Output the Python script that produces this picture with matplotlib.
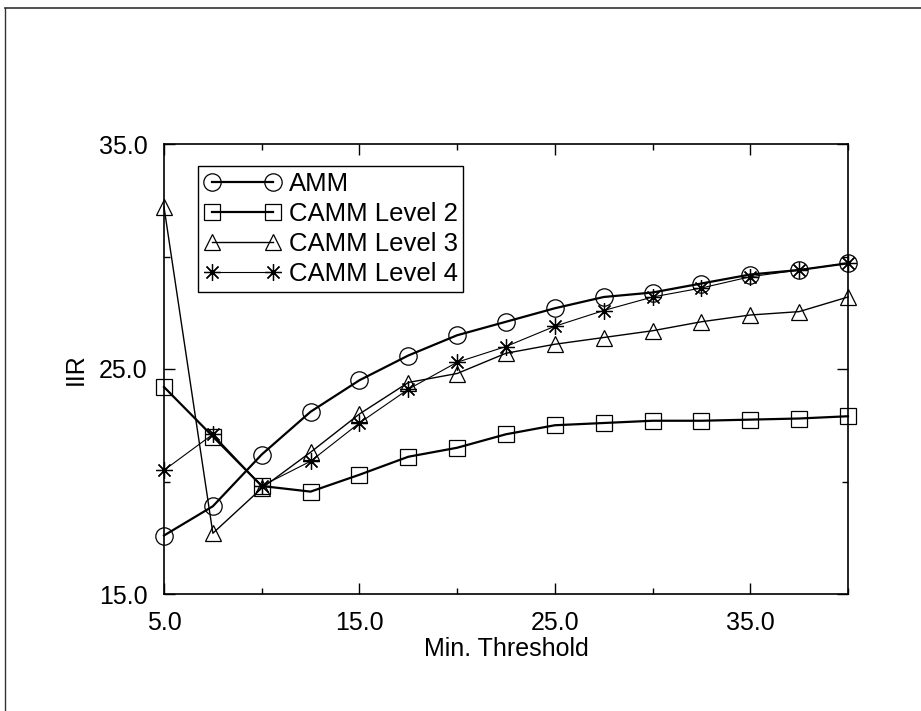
import matplotlib
matplotlib.use("Agg")
import matplotlib.pyplot as plt
from matplotlib.lines import Line2D
from matplotlib.ticker import MultipleLocator, FormatStrFormatter

plt.rcParams['font.family'] = ['Liberation Sans', 'DejaVu Sans']

thresholds = [5.0, 7.5, 10.0, 12.5, 15.0, 17.5, 20.0, 22.5, 25.0, 27.5, 30.0, 32.5, 35.0, 37.5, 40.0]
amm = [17.6, 18.9, 21.2, 23.1, 24.5, 25.6, 26.5, 27.1, 27.7, 28.2, 28.4, 28.8, 29.2, 29.4, 29.7]
camm_l2 = [24.2, 22.0, 19.8, 19.55, 20.3, 21.1, 21.5, 22.1, 22.5, 22.6, 22.7, 22.7, 22.75, 22.8, 22.9]
camm_l3 = [32.2, 17.7, 19.7, 21.3, 23.0, 24.4, 24.8, 25.7, 26.1, 26.4, 26.7, 27.1, 27.4, 27.55, 28.2]
camm_l4 = [20.5, 22.1, 19.8, 20.9, 22.6, 24.1, 25.3, 26.0, 26.9, 27.6, 28.2, 28.6, 29.1, 29.4, 29.7]

labels = ['AMM', 'CAMM Level 2', 'CAMM Level 3', 'CAMM Level 4']
xticks = [5.0, 15.0, 25.0, 35.0]
yticks = [15.0, 25.0, 35.0]

fig = plt.figure(figsize=(9.21, 7.11), dpi=100)
ax = fig.add_axes([164/921, 1-594/711, (848-164)/921, (594-144)/711])

common = dict(color='black', fillstyle='none', markeredgewidth=0.9, clip_on=False)
ax.plot(thresholds, amm, marker='o', ms=12.5, lw=1.6, label=labels[0], **common)
ax.plot(thresholds, camm_l2, marker='s', ms=11, lw=1.6, label=labels[1], **common)
ax.plot(thresholds, camm_l3, marker='^', ms=12, lw=1.0, label=labels[2], **common)
ax.plot(thresholds, camm_l4, marker=(8, 2, 0), ms=12, lw=0.8, label=labels[3], **common)

ax.set_xlim(5, 40)
ax.set_ylim(15, 35)
ax.set_xticks(xticks)
ax.set_yticks(yticks)
ax.xaxis.set_minor_locator(MultipleLocator(5))
ax.yaxis.set_minor_locator(MultipleLocator(5))
ax.xaxis.set_major_formatter(FormatStrFormatter('%.1f'))
ax.yaxis.set_major_formatter(FormatStrFormatter('%.1f'))
ax.tick_params(which='both', direction='in', top=True, right=True, width=1.0, labelsize=18)
ax.tick_params(which='major', length=8, pad=12)
ax.tick_params(which='minor', length=4)
for s in ax.spines.values():
    s.set_linewidth(1.2)

ax.set_xlabel('Min. Threshold', fontsize=18, labelpad=2)
ax.set_ylabel('IIR', fontsize=18, labelpad=8)

leg = ax.legend(loc='upper left', bbox_to_anchor=(0.05, 0.951), numpoints=2,
                fontsize=18.5, frameon=True, fancybox=False, edgecolor='black',
                framealpha=1, borderpad=0.22, labelspacing=0.24, handlelength=3.0,
                handletextpad=0.3, borderaxespad=0)
leg.get_frame().set_linewidth(1.0)

# outer frame (top and left edges visible)
fig.add_artist(Line2D([5/921, 1.0], [1-8/711, 1-8/711], color='#333333', lw=1.2))
fig.add_artist(Line2D([5/921, 5/921], [0.0, 1-8/711], color='#333333', lw=1.0))

fig.savefig('out.png', dpi=100)
